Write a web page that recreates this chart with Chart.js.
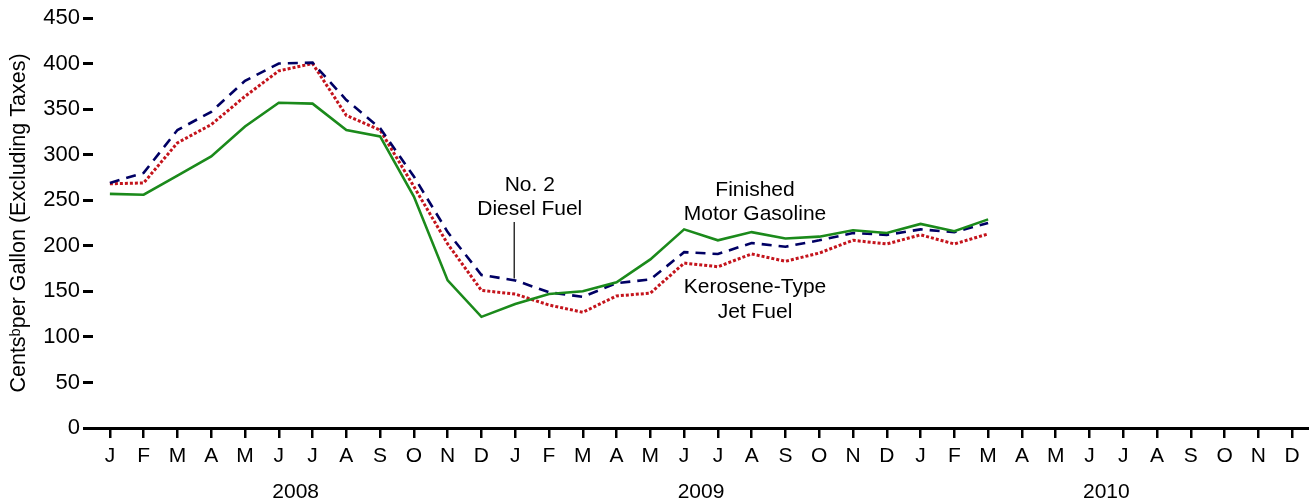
<!DOCTYPE html>
<html>
<head>
<meta charset="utf-8">
<script src="https://cdn.jsdelivr.net/npm/chart.js@4/dist/chart.umd.min.js"></script>
<style>
  body { margin: 0; background: #fff; }
</style>
</head>
<body>
<canvas id="chart" width="1309" height="502"></canvas>
<script>
// month labels, Jan 2008 .. Dec 2010
const months = ['J','F','M','A','M','J','J','A','S','O','N','D',
                'J','F','M','A','M','J','J','A','S','O','N','D',
                'J','F','M','A','M','J','J','A','S','O','N','D'];
const years = ['2008', '2009', '2010'];
const yTicks = [0, 50, 100, 150, 200, 250, 300, 350, 400, 450];

// cents per gallon, excluding taxes (Jan 2008 - Mar 2010)
const gasoline = [257, 256, 277, 298, 331, 357, 356, 327, 320, 254, 162, 122,
                  136, 147, 150, 160, 185, 218, 206, 215, 208, 210, 217, 214,
                  224, 216, 229];
const diesel   = [269, 280, 327, 347, 381, 400, 401, 360, 329, 276, 215, 168,
                  162, 149, 144, 159, 163, 193, 191, 203, 199, 206, 214, 212,
                  218, 215, 225];
const jetFuel  = [268, 269, 313, 333, 364, 392, 400, 343, 327, 265, 202, 151,
                  147, 135, 127, 145, 148, 181, 177, 191, 183, 192, 206, 202,
                  212, 202, 213];

const FONT = "'Liberation Sans', Arial, sans-serif";

// text labels placed in data coordinates (month index, cents)
const notes = [
  { text: 'No. 2',          x: 12.43, y: 267 },
  { text: 'Diesel Fuel',    x: 12.43, y: 240 },
  { text: 'Finished',       x: 19.1,  y: 261 },
  { text: 'Motor Gasoline', x: 19.1,  y: 235 },
  { text: 'Kerosene-Type',  x: 19.1,  y: 154 },
  { text: 'Jet Fuel',       x: 19.1,  y: 127 }
];

const extras = {
  id: 'extras',
  afterDraw(chart) {
    const ctx = chart.ctx;
    const xs = chart.scales.x, ys = chart.scales.y;
    ctx.save();
    ctx.fillStyle = '#000';
    ctx.font = '21px ' + FONT;
    ctx.textAlign = 'center';
    ctx.textBaseline = 'middle';
    notes.forEach(n => {
      ctx.fillText(n.text, xs.getPixelForValue(n.x), ys.getPixelForValue(n.y));
    });
    // leader line for diesel label
    ctx.strokeStyle = '#000';
    ctx.lineWidth = 1.2;
    ctx.beginPath();
    ctx.moveTo(xs.getPixelForValue(11.97), ys.getPixelForValue(226));
    ctx.lineTo(xs.getPixelForValue(11.97), ys.getPixelForValue(164));
    ctx.stroke();
    // year labels under each group of 12 months
    years.forEach((yr, i) => {
      const x0 = xs.getPixelForValue(i * 12);
      const x1 = xs.getPixelForValue(i * 12 + 11);
      ctx.fillText(yr, (x0 + x1) / 2, 492);
    });
    ctx.restore();
  }
};

new Chart(document.getElementById('chart'), {
  type: 'line',
  data: {
    labels: months,
    datasets: [
      { label: 'Finished Motor Gasoline', data: gasoline, borderColor: '#1b8a1b',
        borderWidth: 2.6 },
      { label: 'No. 2 Diesel Fuel', data: diesel, borderColor: '#000064',
        borderWidth: 2.6, borderDash: [10, 7] },
      { label: 'Kerosene-Type Jet Fuel', data: jetFuel, borderColor: '#c4141c',
        borderWidth: 3, borderDash: [3, 2] }
    ]
  },
  options: {
    responsive: false,
    animation: false,
    layout: { padding: { top: 18, right: 0, left: 0, bottom: 0 } },
    elements: { point: { radius: 0 }, line: { tension: 0, borderCapStyle: 'butt' } },
    plugins: { legend: { display: false }, tooltip: { enabled: false } },
    scales: {
      x: {
        offset: true,
        grid: { offset: false, drawOnChartArea: false, tickLength: 10, color: '#000', lineWidth: 2.5 },
        border: { display: true, color: '#000', width: 3 },
        ticks: { color: '#000', font: { family: FONT, size: 21 }, padding: 6,
                 maxRotation: 0, autoSkip: false },
        afterFit(s) { s.height = 74; }
      },
      y: {
        min: 0, max: 450,
        afterBuildTicks(s) { s.ticks = yTicks.map(v => ({ value: v })); },
        grid: { drawOnChartArea: false, tickLength: 10, color: '#000', lineWidth: 3 },
        border: { display: false },
        ticks: { color: '#000', font: { family: FONT, size: 22 }, padding: 3 },
        title: { display: true, text: 'Cents\u1D47per Gallon (Excluding Taxes)',
                 color: '#000', font: { family: FONT, size: 21.5 }, padding: { top: 6, bottom: 0 } },
        afterFit(s) { s.width = 93; }
      }
    }
  },
  plugins: [extras]
});
</script>
</body>
</html>
